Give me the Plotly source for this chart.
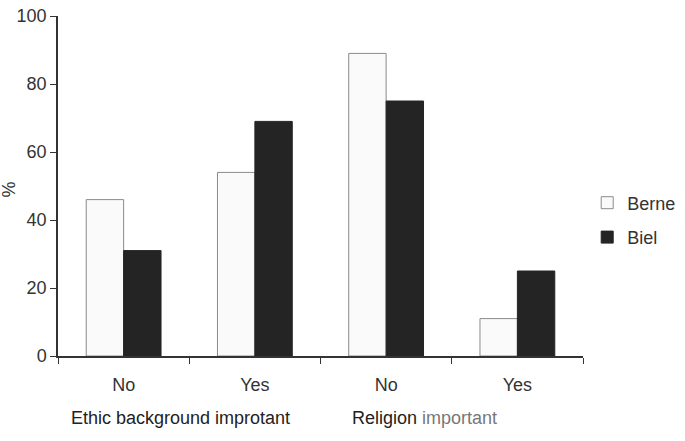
import plotly.graph_objects as go

categories = ["No", "Yes", "No ", "Yes "]
tick_labels = ["No", "Yes", "No", "Yes"]
berne = [46, 54, 89, 11]
biel = [31, 69, 75, 25]
group_labels = ["Ethic background improtant", "Religion important"]

FONT = "Liberation Sans, Arial, sans-serif"

fig = go.Figure()
fig.add_trace(go.Bar(x=categories, y=berne, name="Berne", legendgroup="a",
                     marker=dict(color="#fafafa", line=dict(color="#8a8a8a", width=1))))
fig.add_trace(go.Bar(x=categories, y=biel, name="Biel", legendgroup="b",
                     marker=dict(color="#242424", line=dict(color="#242424", width=1))))

fig.update_layout(
    template="none",
    width=685, height=441,
    margin=dict(l=58, r=102, t=16, b=85, autoexpand=False),
    paper_bgcolor="white", plot_bgcolor="white",
    barmode="group", bargap=0.43, bargroupgap=0,
    font=dict(family=FONT, size=18, color="#333333"),
    showlegend=True,
    legend=dict(x=1.008, y=0.40, xanchor="left", yanchor="middle",
                font=dict(size=18, color="#333333"), itemwidth=30,
                tracegroupgap=8, bgcolor="rgba(0,0,0,0)"),
)
fig.update_xaxes(
    type="category", tickmode="array", tickvals=categories, ticktext=tick_labels,
    tickson="boundaries", ticks="outside", ticklen=6, tickcolor="#333333",
    ticklabelstandoff=12,
    showline=True, linecolor="#333333", linewidth=1.5, showgrid=False,
    tickfont=dict(size=18, color="#333333"), automargin=False,
)
fig.update_yaxes(
    range=[0, 100], tickvals=[0, 20, 40, 60, 80, 100],
    ticks="outside", ticklen=6, tickcolor="#333333",
    showline=True, linecolor="#333333", linewidth=1.5, showgrid=False, zeroline=False,
    tickfont=dict(size=18, color="#333333"), automargin=False,
)
fig.add_annotation(text="%", x=0, xref="paper", y=49, yref="y", xshift=-49,
                   xanchor="center", yanchor="middle",
                   showarrow=False, textangle=-90, font=dict(size=18, color="#333333"))
fig.add_annotation(text=group_labels[0], x=0.43, xref="x", y=-0.182, yref="paper",
                   yanchor="middle", showarrow=False, font=dict(size=18, color="#222222"))
fig.add_annotation(text="Religion <span style='color:#777777'>important</span>",
                   x=2.29, xref="x", y=-0.182, yref="paper",
                   yanchor="middle", showarrow=False, font=dict(size=18, color="#222222"))

# remove the page's default 8px body margin so the figure fills the window
fig.write_html("out.html", config={"displayModeBar": False},
               post_script="document.body.style.margin='0';document.body.style.padding='0';")
